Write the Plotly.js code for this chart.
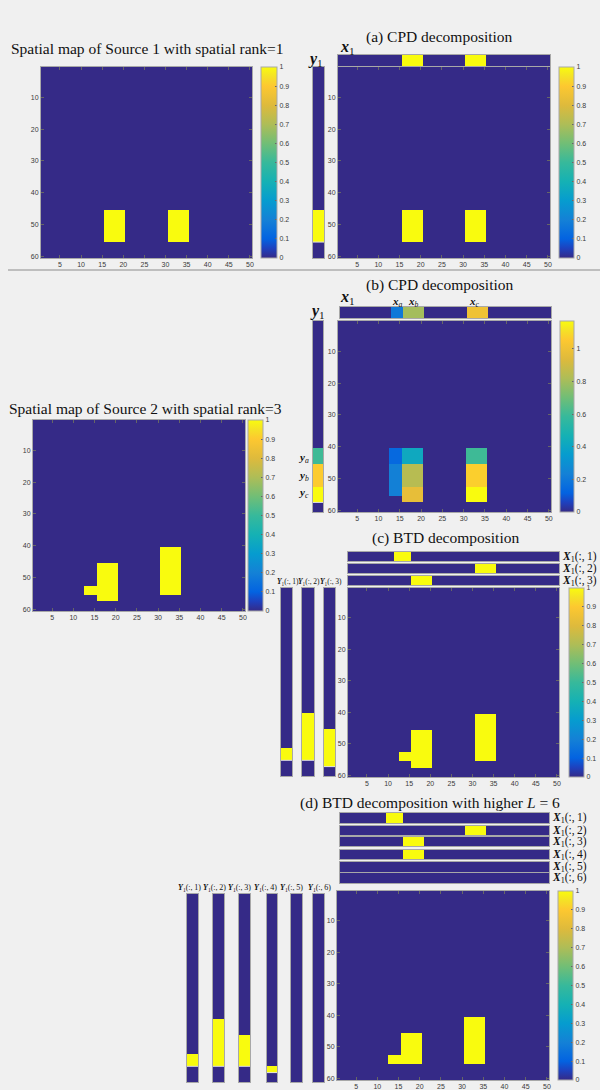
<!DOCTYPE html>
<html>
<head>
<meta charset="utf-8">
<script src="https://cdn.plot.ly/plotly-3.0.1.min.js"></script>
<style>html,body{margin:0;padding:0;background:rgb(240,240,240);}#chart{width:600px;height:1090px;}</style>
</head>
<body>
<div id="chart"></div>
<script>
// ---------------- DATA ----------------
// Image size: 60 rows x 50 columns
const nRows = 60, nCols = 50;
const xTicks = [5,10,15,20,25,30,35,40,45,50];
const yTicks = [10,20,30,40,50,60];
const cbTicks01 = [0,0.1,0.2,0.3,0.4,0.5,0.6,0.7,0.8,0.9,1];
const cbTicksB = [0,0.2,0.4,0.6,0.8,1];

// blocks: [rowStart,rowEnd,colStart,colEnd,value]
const source1Blocks = [[46,55,16,20,1],[46,55,31,35,1]];
// (a) CPD factors: [start,end,value]
const cpdA_x1 = [[16,20,1],[31,35,1]];
const cpdA_y1 = [[46,55,1]];
// (b) CPD of source 2
const cpdB_map = [[41,45,13,15,0.14],[46,55,13,15,0.23],[41,45,16,20,0.42],[46,52,16,20,0.84],
                  [53,57,16,20,0.97],[41,45,31,35,0.6],[46,52,31,35,1.07],[53,57,31,35,1.17]];
const cpdB_x1 = [[13,15,0.2],[16,20,0.8],[31,35,1.0]];
const cpdB_y1 = [[41,45,0.6],[46,52,1.06],[53,57,1.17]];
const cpdB_max = 1.17;
// Source 2
const source2Blocks = [[53,55,13,15,1],[46,57,16,20,1],[41,55,31,35,1]];
// (c) BTD L=3
const btdC_map = [[53,55,13,15,1],[46,57,16,20,1],[41,55,31,35,1]];
const btdC_X = [[[12,15,1]],[[31,35,1]],[[16,20,1]]];
const btdC_Y = [[[52,55,1]],[[41,55,1]],[[46,57,1]]];
const btdC_labels = ['(:,&#8201;1)','(:,&#8201;2)','(:,&#8201;3)'];
// (d) BTD L=6
const btdD_map = [[53,55,13,15,1],[46,55,16,20,1],[41,55,31,35,1]];
const btdD_X = [[[12,15,1]],[[31,35,1]],[[16,20,1]],[[16,20,1]],[],[]];
const btdD_Y = [[[52,55,1]],[[41,55,1]],[[46,55,1]],[[56,57,1]],[],[]];
const btdD_labels = ['(:,&#8201;1)','(:,&#8201;2)','(:,&#8201;3)','(:,&#8201;4)','(:,&#8201;5)','(:,&#8201;6)'];

// ---------------- HELPERS ----------------
const W = 600, H = 1090;
const BG = 'rgb(240,240,240)';
const parula = [
  [0.00,'rgb(53,42,135)'],[0.05,'rgb(30,65,190)'],[0.10,'rgb(3,99,225)'],[0.20,'rgb(20,129,214)'],
  [0.30,'rgb(6,156,207)'],[0.40,'rgb(21,177,180)'],[0.50,'rgb(55,185,155)'],[0.60,'rgb(113,190,118)'],
  [0.70,'rgb(174,189,87)'],[0.80,'rgb(222,186,60)'],[0.90,'rgb(253,200,48)'],[0.95,'rgb(245,225,38)'],
  [1.00,'rgb(249,251,14)']];
const rowIdx = Array.from({length:nRows},(_,i)=>i+1);
const colIdx = Array.from({length:nCols},(_,i)=>i+1);

function matrix(blocks){
  const z = rowIdx.map(()=>colIdx.map(()=>0));
  blocks.forEach(([r0,r1,c0,c1,v])=>{for(let r=r0;r<=r1;r++)for(let c=c0;c<=c1;c++)z[r-1][c-1]=v;});
  return z;
}
function rowVec(blocks){
  const z=[colIdx.map(()=>0)];
  blocks.forEach(([c0,c1,v])=>{for(let c=c0;c<=c1;c++)z[0][c-1]=v;});
  return z;
}
function colVec(blocks){
  const z=rowIdx.map(()=>[0]);
  blocks.forEach(([r0,r1,v])=>{for(let r=r0;r<=r1;r++)z[r-1][0]=v;});
  return z;
}

const layout = {
  width: W, height: H, margin:{l:0,r:0,t:0,b:0},
  paper_bgcolor: BG, plot_bgcolor: BG, showlegend:false,
  annotations: [], shapes: []
};
const data = [];
let nAx = 0;
const tickFont = {family:'Liberation Sans, Arial, sans-serif', size:7, color:'#3a3a3a'};

function dom(p0,p1,total,flip){ return flip ? [1-p1/total, 1-p0/total] : [p0/total, p1/total]; }
const sfx = n => (n===1?'':String(n));

function addHeat(z, x, y, box, kind, zmax, cb){
  nAx++;
  const xa = 'xaxis'+sfx(nAx), ya='yaxis'+sfx(nAx);
  const base = {showgrid:false, zeroline:false, fixedrange:true, showline:true, linecolor:'#a8a8a8', linewidth:1, mirror:true};
  if(kind==='main'){
    layout[xa] = Object.assign({}, base, {domain:dom(box[0],box[1],W), range:[0.5,nCols+0.5], tickmode:'array', tickvals:xTicks,
      ticks:'inside', ticklen:3, tickcolor:'#666', mirror:'ticks', tickfont:tickFont, anchor:'y'+sfx(nAx)});
    layout[ya] = Object.assign({}, base, {domain:dom(box[2],box[3],H,true), range:[nRows+0.5,0.5], tickmode:'array', tickvals:yTicks,
      ticks:'inside', ticklen:3, tickcolor:'#666', mirror:'ticks', tickfont:tickFont, anchor:'x'+sfx(nAx)});
  } else {
    const xr = kind==='row' ? [0.5,nCols+0.5] : [0.5,1.5];
    const yr = kind==='row' ? [1.5,0.5] : [nRows+0.5,0.5];
    layout[xa] = Object.assign({}, base, {domain:dom(box[0],box[1],W), range:xr, showticklabels:false, ticks:'', anchor:'y'+sfx(nAx)});
    layout[ya] = Object.assign({}, base, {domain:dom(box[2],box[3],H,true), range:yr, showticklabels:false, ticks:'', anchor:'x'+sfx(nAx)});
  }
  const tr = {type:'heatmap', z:z, x:x, y:y, xaxis:'x'+sfx(nAx), yaxis:'y'+sfx(nAx),
    colorscale:parula, zmin:0, zmax:zmax, zsmooth:false, hoverinfo:'skip', showscale:!!cb};
  if(cb){
    tr.colorbar = {x:cb.x0/W, xanchor:'left', xref:'paper', y:1-box[3]/H, yanchor:'bottom', yref:'paper',
      len:(box[3]-box[2])/H, lenmode:'fraction', thickness:cb.x1-cb.x0, xpad:0, ypad:0,
      outlinewidth:1, outlinecolor:'#a8a8a8', tickmode:'array', tickvals:cb.ticks,
      ticks:'inside', ticklen:2, tickcolor:'#666', tickfont:tickFont};
  }
  data.push(tr);
  return nAx;
}
// thin background-coloured seam below the last block of a column vector (as in the reference rendering)
function seam(ax, blocks){
  if(!blocks.length) return;
  const last = blocks[blocks.length-1];
  const yb = last[1]+0.5;
  layout.shapes.push({type:'line', xref:'x'+sfx(ax)+' domain', yref:'y'+sfx(ax), x0:0, x1:1, y0:yb, y1:yb,
    line:{color:'rgb(225,225,225)', width:1}});
}
function ann(text, x, y, size, opts){
  layout.annotations.push(Object.assign({text:text, x:x/W, y:1-y/H, xref:'paper', yref:'paper', showarrow:false,
    xanchor:'center', yanchor:'middle', font:{family:'Liberation Serif, Times New Roman, serif', size:size, color:'#111'}}, opts||{}));
}
const bx = s=>'<b><i>'+s+'</i></b>';
const TS = 15.5;

// ---------------- PANELS ----------------
// Source 1
addHeat(matrix(source1Blocks), colIdx, rowIdx, [41,252,67,258], 'main', 1, {x0:261,x1:277,ticks:cbTicks01});
ann('Spatial map of Source 1 with spatial rank=1', 147, 48, TS);

// (a)
addHeat(matrix(source1Blocks), colIdx, rowIdx, [338,550,67,258], 'main', 1, {x0:559,x1:574,ticks:cbTicks01});
addHeat(rowVec(cpdA_x1), colIdx, [1], [338,550,55,66], 'row', 1);
seam(addHeat(colVec(cpdA_y1), [1], rowIdx, [313,324,67,258], 'col', 1), cpdA_y1);
ann('(a) CPD decomposition', 440, 37, TS);
ann(bx('x')+'<sub>1</sub>', 347, 47, 16);
ann(bx('y')+'<sub>1</sub>', 316, 59, 16);

// separator
layout.shapes.push({type:'line', xref:'paper', yref:'paper', x0:8/W, x1:1, y0:1-270/H, y1:1-270/H, line:{color:'#8c8c8c', width:1}});

// (b)
addHeat(matrix(cpdB_map), colIdx, rowIdx, [338,551,321,512], 'main', cpdB_max, {x0:560,x1:574,ticks:cbTicksB});
addHeat(rowVec(cpdB_x1), colIdx, [1], [340,551,307,318], 'row', cpdB_max);
seam(addHeat(colVec(cpdB_y1), [1], rowIdx, [313,323,321,512], 'col', cpdB_max), cpdB_y1);
ann('(b) CPD decomposition', 440, 285, TS);
ann(bx('x')+'<sub>1</sub>', 347, 297, 16);
ann(bx('y')+'<sub>1</sub>', 317, 311, 16);
ann(bx('x')+'<sub><i>a</i></sub>', 397, 302, 11);
ann(bx('x')+'<sub><i>b</i></sub>', 413, 302, 11);
ann(bx('x')+'<sub><i>c</i></sub>', 474, 302, 11);
ann(bx('y')+'<sub><i>a</i></sub>', 303, 458, 11);
ann(bx('y')+'<sub><i>b</i></sub>', 303, 476, 11);
ann(bx('y')+'<sub><i>c</i></sub>', 303, 493, 11);

// Source 2
addHeat(matrix(source2Blocks), colIdx, rowIdx, [33,245,420,611], 'main', 1, {x0:248,x1:263,ticks:cbTicks01});
ann('Spatial map of Source 2 with spatial rank=3', 145, 408, TS);

// (c)
addHeat(matrix(btdC_map), colIdx, rowIdx, [348,559,588,777], 'main', 1, {x0:569,x1:584,ticks:cbTicks01});
const cXbars = [[552,561],[564,573],[576,585]];
btdC_X.forEach((b,i)=>{
  addHeat(rowVec(b), colIdx, [1], [348,559,cXbars[i][0],cXbars[i][1]], 'row', 1);
  ann(bx('X')+'<sub>1</sub>'+btdC_labels[i], 560, (cXbars[i][0]+cXbars[i][1])/2, 11.5, {xanchor:'left'});
});
const cYbars = [[281,292],[302,314],[324,335]];
btdC_Y.forEach((b,i)=>{
  seam(addHeat(colVec(b), [1], rowIdx, [cYbars[i][0],cYbars[i][1],588,776], 'col', 1), b);
  ann(bx('Y')+'<sub>1</sub>'+btdC_labels[i], (cYbars[i][0]+cYbars[i][1])/2+1, 582, 7.5);
});
ann('(c) BTD decomposition', 445, 538, TS);

// (d)
addHeat(matrix(btdD_map), colIdx, rowIdx, [337,549,891,1080], 'main', 1, {x0:558,x1:573,ticks:cbTicks01});
const dXbars = [[813,823],[826,835],[837,846],[850,859],[862,872],[873,883]];
btdD_X.forEach((b,i)=>{
  addHeat(rowVec(b), colIdx, [1], [340,549,dXbars[i][0],dXbars[i][1]], 'row', 1);
  ann(bx('X')+'<sub>1</sub>'+btdD_labels[i], 550, (dXbars[i][0]+dXbars[i][1])/2, 11.5, {xanchor:'left'});
});
const dYbars = [[187,198],[213,224],[239,250],[267,277],[291,302],[313,324]];
const dYlab = [189,214,239,265,291,319];
btdD_Y.forEach((b,i)=>{
  seam(addHeat(colVec(b), [1], rowIdx, [dYbars[i][0],dYbars[i][1],894,1082], 'col', 1), b);
  ann(bx('Y')+'<sub>1</sub>'+btdD_labels[i], dYlab[i], 888, 8);
});
ann('(d) BTD decomposition with higher <i>L</i> = 6', 430, 803, TS);

Plotly.newPlot('chart', data, layout, {staticPlot:true, displayModeBar:false});
</script>
</body>
</html>
